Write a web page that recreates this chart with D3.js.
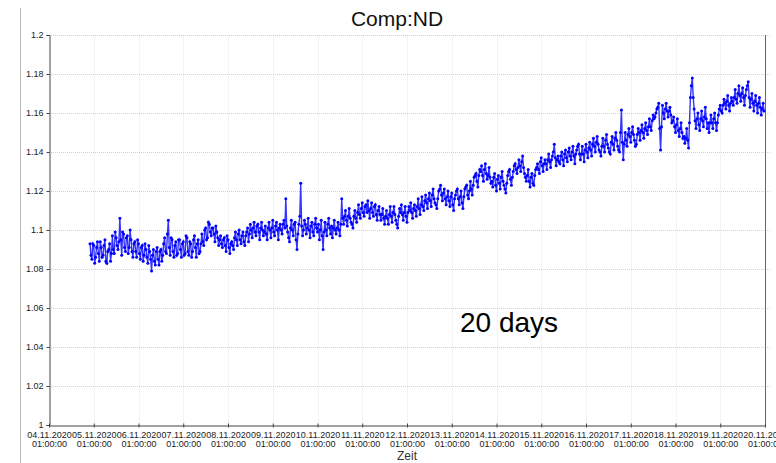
<!DOCTYPE html>
<html>
<head>
<meta charset="utf-8">
<script src="https://cdn.jsdelivr.net/npm/d3@7"></script>
<style>
  html, body { margin: 0; padding: 0; background: #fff; }
  svg { display: block; font-family: "Liberation Sans", Arial, sans-serif; }
</style>
</head>
<body>
<svg id="chart" width="776" height="463"></svg>
<script>
// ---------- data ----------
const title = "Comp:ND";
const xTitle = "Zeit";
const annotation = "20 days";
const xTickDates = ["04.11.2020","05.11.2020","06.11.2020","07.11.2020","08.11.2020","09.11.2020",
  "10.11.2020","11.11.2020","12.11.2020","13.11.2020","14.11.2020","15.11.2020","16.11.2020",
  "17.11.2020","18.11.2020","19.11.2020","20.11.2020"];
const xTickTime = "01:00:00";
const yTicks = [1, 1.02, 1.04, 1.06, 1.08, 1.1, 1.12, 1.14, 1.16, 1.18, 1.2];
const seriesStart = "04.11.2020 23:00:00"; // first sample
// samples on the full hour
const valuesFullHour = [
  1.093,1.085,1.092,1.086,1.094,1.084,1.091,1.087,1.095,1.083,1.090,1.084,
  1.097,1.088,1.096,1.090,1.106,1.087,1.098,1.089,1.097,1.091,1.095,1.086,
  1.094,1.086,1.093,1.085,1.092,1.087,1.090,1.083,1.089,1.079,1.090,1.082,
  1.091,1.082,1.090,1.087,1.096,1.088,1.105,1.087,1.095,1.086,1.094,1.088,
  1.095,1.086,1.094,1.088,1.096,1.087,1.093,1.089,1.097,1.086,1.095,1.089,
  1.098,1.092,1.101,1.096,1.103,1.097,1.101,1.094,1.099,1.092,1.097,1.091,
  1.096,1.089,1.095,1.088,1.094,1.090,1.099,1.092,1.100,1.093,1.099,1.092,
  1.099,1.094,1.103,1.096,1.104,1.097,1.103,1.095,1.104,1.097,1.102,1.095,
  1.104,1.096,1.105,1.097,1.104,1.095,1.103,1.098,1.105,1.116,1.099,1.094,
  1.105,1.097,1.104,1.090,1.103,1.124,1.097,1.105,1.098,1.106,1.096,1.104,
  1.097,1.106,1.099,1.095,1.105,1.090,1.104,1.097,1.106,1.098,1.096,1.105,
  1.098,1.104,1.097,1.116,1.103,1.110,1.102,1.111,1.104,1.101,1.110,1.104,
  1.113,1.106,1.114,1.107,1.113,1.115,1.106,1.114,1.107,1.113,1.105,1.112,
  1.105,1.111,1.103,1.110,1.103,1.112,1.104,1.112,1.105,1.101,1.111,1.113,
  1.105,1.112,1.104,1.112,1.114,1.106,1.113,1.107,1.116,1.108,1.117,1.110,
  1.118,1.111,1.119,1.112,1.121,1.114,1.111,1.120,1.123,1.115,1.121,1.113,
  1.120,1.112,1.119,1.110,1.118,1.121,1.113,1.120,1.111,1.121,1.123,1.116,
  1.125,1.118,1.127,1.129,1.122,1.131,1.133,1.125,1.134,1.126,1.132,1.124,
  1.122,1.129,1.120,1.128,1.121,1.130,1.123,1.119,1.128,1.131,1.123,1.130,
  1.134,1.129,1.136,1.130,1.138,1.129,1.125,1.131,1.122,1.129,1.123,1.131,
  1.134,1.129,1.137,1.130,1.136,1.131,1.139,1.132,1.138,1.144,1.133,1.138,
  1.134,1.140,1.133,1.141,1.135,1.142,1.136,1.143,1.134,1.141,1.144,1.136,
  1.143,1.135,1.144,1.137,1.145,1.138,1.147,1.140,1.148,1.141,1.138,1.147,
  1.140,1.149,1.142,1.139,1.148,1.141,1.150,1.143,1.140,1.1615,1.136,1.150,
  1.143,1.152,1.145,1.153,1.146,1.144,1.152,1.146,1.154,1.147,1.155,1.149,
  1.157,1.151,1.159,1.158,1.162,1.165,1.141,1.164,1.157,1.165,1.158,1.163,
  1.155,1.158,1.150,1.157,1.148,1.155,1.147,1.1445,1.152,1.142,1.168,1.178,
  1.162,1.152,1.160,1.151,1.161,1.153,1.163,1.152,1.150,1.159,1.152,1.160,
  1.151,1.159,1.164,1.160,1.167,1.162,1.169,1.161,1.168,1.164,1.172,1.165,
  1.174,1.166,1.173,1.164,1.172,1.176,1.163,1.170,1.161,1.169,1.160,1.168,
  1.159,1.165
];
// samples on the half hour (hh:30)
const valuesHalfHour = [
  1.087,1.093,1.083,1.091,1.088,1.094,1.086,1.092,1.084,1.089,1.093,1.088,
  1.090,1.099,1.092,1.094,1.095,1.099,1.091,1.096,1.088,1.100,1.089,1.093,
  1.089,1.095,1.088,1.091,1.084,1.093,1.086,1.092,1.085,1.087,1.084,1.089,
  1.085,1.089,1.084,1.093,1.089,1.098,1.091,1.096,1.089,1.092,1.087,1.095,
  1.090,1.093,1.087,1.097,1.089,1.094,1.086,1.095,1.091,1.093,1.088,1.093,
  1.094,1.100,1.095,1.104,1.099,1.101,1.098,1.102,1.096,1.095,1.093,1.095,
  1.092,1.097,1.091,1.093,1.092,1.096,1.095,1.098,1.095,1.097,1.094,1.097,
  1.101,1.098,1.100,1.101,1.099,1.102,1.099,1.101,1.100,1.099,1.098,1.101,
  1.100,1.101,1.099,1.102,1.100,1.101,1.100,1.103,1.101,1.102,1.096,1.101,
  1.100,1.103,1.095,1.098,1.107,1.102,1.100,1.103,1.101,1.100,1.102,1.099,
  1.103,1.101,1.103,1.100,1.097,1.099,1.100,1.103,1.101,1.102,1.101,1.100,
  1.101,1.100,1.103,1.106,1.107,1.105,1.107,1.106,1.103,1.107,1.106,1.109,
  1.108,1.111,1.109,1.112,1.109,1.110,1.111,1.109,1.112,1.108,1.110,1.108,
  1.108,1.106,1.107,1.106,1.108,1.107,1.109,1.108,1.103,1.107,1.109,1.108,
  1.109,1.107,1.109,1.110,1.109,1.111,1.110,1.112,1.111,1.113,1.112,1.115,
  1.114,1.116,1.115,1.118,1.116,1.113,1.116,1.121,1.118,1.119,1.116,1.117,
  1.115,1.117,1.113,1.116,1.120,1.116,1.117,1.114,1.117,1.122,1.118,1.120,
  1.121,1.123,1.128,1.125,1.128,1.130,1.128,1.131,1.129,1.128,1.127,1.125,
  1.127,1.123,1.126,1.124,1.127,1.125,1.121,1.124,1.130,1.126,1.127,1.133,
  1.131,1.132,1.133,1.135,1.132,1.127,1.128,1.125,1.127,1.124,1.128,1.132,
  1.131,1.135,1.133,1.134,1.134,1.136,1.135,1.136,1.140,1.137,1.136,1.135,
  1.138,1.136,1.139,1.137,1.140,1.138,1.140,1.138,1.139,1.143,1.139,1.139,
  1.139,1.141,1.140,1.142,1.141,1.144,1.143,1.145,1.144,1.140,1.143,1.143,
  1.146,1.144,1.140,1.145,1.144,1.147,1.146,1.141,1.150,1.145,1.144,1.146,
  1.149,1.148,1.150,1.149,1.143,1.149,1.150,1.151,1.150,1.152,1.151,1.153,
  1.153,1.156,1.157,1.160,1.163,1.152,1.153,1.160,1.162,1.161,1.161,1.159,
  1.156,1.153,1.154,1.151,1.152,1.150,1.148,1.147,1.146,1.155,1.174,1.168,
  1.156,1.157,1.154,1.157,1.156,1.158,1.157,1.155,1.155,1.155,1.157,1.155,
  1.155,1.162,1.161,1.164,1.165,1.166,1.164,1.165,1.166,1.168,1.167,1.170,
  1.169,1.170,1.168,1.169,1.174,1.168,1.167,1.165,1.166,1.164,1.165,1.163,
  1.162,1.161
];

// ---------- layout ----------
const svg = d3.select("#chart");
const plotL = 49, plotR = 765, plotT = 35, plotB = 425;
const parseDay = d3.utcParse("%d.%m.%Y %H:%M:%S");
const t0 = parseDay(xTickDates[0] + " " + xTickTime);
const t1 = parseDay(xTickDates[xTickDates.length - 1] + " " + xTickTime);
const x = d3.scaleUtc().domain([t0, t1]).range([plotL, plotR]);
const y = d3.scaleLinear().domain([1, 1.2]).range([plotB, plotT]);

const startT = parseDay(seriesStart);
const data = [];
valuesFullHour.forEach((v, i) => {
  const tf = d3.utcHour.offset(startT, i);
  data.push({ t: tf, v });
  if (i < valuesHalfHour.length) data.push({ t: d3.utcMinute.offset(tf, 30), v: valuesHalfHour[i] });
});
const tickDates = xTickDates.map(d => parseDay(d + " " + xTickTime));

// frame line on the left
svg.append("line").attr("x1", 20.5).attr("x2", 20.5).attr("y1", 8).attr("y2", 463)
  .attr("stroke", "#b8b8b8").attr("stroke-width", 1);

// vertical faint gridlines
svg.append("g").selectAll("line").data(tickDates.slice(1, -1)).join("line")
  .attr("x1", d => Math.round(x(d)) + 0.5).attr("x2", d => Math.round(x(d)) + 0.5)
  .attr("y1", plotT).attr("y2", plotB)
  .attr("stroke", "#f3f3f3").attr("stroke-width", 1);

// horizontal dotted gridlines
svg.append("g").selectAll("line").data(yTicks.slice(1)).join("line")
  .attr("x1", plotL).attr("x2", plotR + 6)
  .attr("y1", d => Math.round(y(d)) + 0.5).attr("y2", d => Math.round(y(d)) + 0.5)
  .attr("stroke", "#cfcfcf").attr("stroke-width", 1).attr("stroke-dasharray", "1,1");

// right border
svg.append("line").attr("x1", plotR + 0.5).attr("x2", plotR + 0.5).attr("y1", plotT).attr("y2", plotB)
  .attr("stroke", "#666").attr("stroke-width", 1);

// y axis
const yAxis = svg.append("g").attr("transform", `translate(${plotL + 0.5},0)`)
  .call(d3.axisLeft(y).tickValues(yTicks).tickSize(3).tickPadding(3).tickFormat(d => String(+d.toFixed(2))));
yAxis.select(".domain").attr("stroke", "#444");
yAxis.selectAll(".tick line").attr("stroke", "#444");
yAxis.selectAll("text").attr("font-size", 9).attr("fill", "#222")
  .attr("font-family", "Liberation Sans, Arial, sans-serif");

// x axis
const xAxis = svg.append("g").attr("transform", `translate(0,${plotB + 0.5})`)
  .call(d3.axisBottom(x).tickValues(tickDates).tickSize(0).tickFormat(() => ""));
xAxis.select(".domain").attr("stroke", "#444");
xAxis.selectAll(".tick line").remove();
xAxis.selectAll(".tick").append("line").attr("y1", -2).attr("y2", 2).attr("stroke", "#444");
xAxis.selectAll(".tick text").remove();
const lbl = xAxis.selectAll(".tick").append("text")
  .attr("fill", "#222").attr("font-size", 9).attr("text-anchor", "middle")
  .attr("font-family", "Liberation Sans, Arial, sans-serif");
lbl.append("tspan").attr("x", 0).attr("y", 12).text(d => d3.utcFormat("%d.%m.%Y")(d));
lbl.append("tspan").attr("x", 0).attr("y", 21).text(d => d3.utcFormat("%H:%M:%S")(d));

// series line + markers
const line = d3.line().x(d => x(d.t)).y(d => y(d.v));
svg.append("path").datum(data).attr("d", line)
  .attr("fill", "none").attr("stroke", "#1010ff").attr("stroke-width", 1.4).attr("stroke-opacity", 0.85);
svg.append("g").selectAll("circle").data(data).join("circle")
  .attr("cx", d => x(d.t)).attr("cy", d => y(d.v)).attr("r", 1.5)
  .attr("fill", "#0000ff");

// title, axis title, annotation
svg.append("text").attr("x", 397).attr("y", 26).attr("text-anchor", "middle")
  .attr("font-size", 21).attr("fill", "#111").text(title);
svg.append("text").attr("x", 407).attr("y", 460).attr("text-anchor", "middle")
  .attr("font-size", 12).attr("fill", "#333").text(xTitle);
svg.append("text").attr("x", 460).attr("y", 332)
  .attr("font-size", 28).attr("fill", "#000").text(annotation);
</script>
</body>
</html>
